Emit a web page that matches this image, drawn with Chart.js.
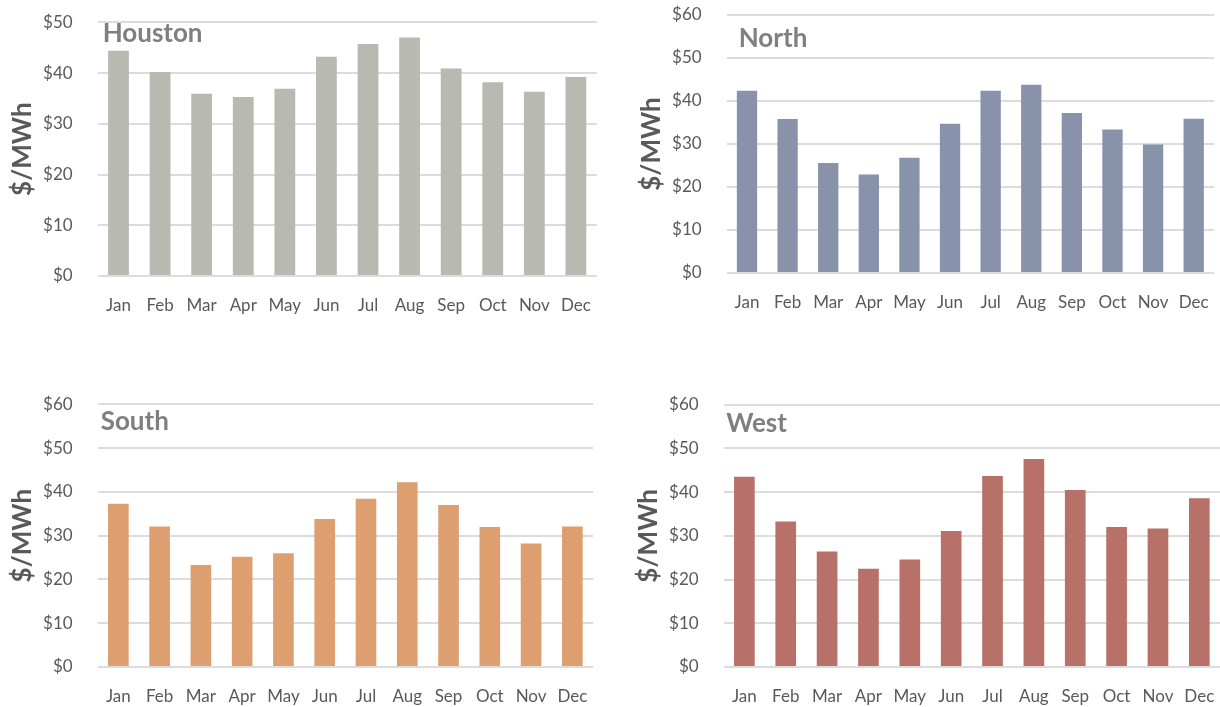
<!DOCTYPE html>
<html>
<head>
<meta charset="utf-8">
<script src="https://cdn.jsdelivr.net/npm/chart.js@4"></script>
<style>
    body { margin: 0; background: #ffffff; }
    #pagina { position: relative; width: 1220px; height: 707px; overflow: hidden; }
    .painel { position: absolute; }
</style>
</head>
<body>
<div id="pagina">
    <div class="painel" style="left:0px; top:0px; width:600px; height:321px;"><canvas id="graficoHouston"></canvas></div>
    <div class="painel" style="left:629px; top:0px; width:588px; height:318px;"><canvas id="graficoNorth"></canvas></div>
    <div class="painel" style="left:0px; top:390px; width:596px; height:322px;"><canvas id="graficoSouth"></canvas></div>
    <div class="painel" style="left:626px; top:390px; width:594px; height:322px;"><canvas id="graficoWest"></canvas></div>
</div>

<script>
const meses = ['Jan', 'Feb', 'Mar', 'Apr', 'May', 'Jun', 'Jul', 'Aug', 'Sep', 'Oct', 'Nov', 'Dec'];

// $/MWh por mes
const houston = [44.4, 40.2, 35.9, 35.3, 36.9, 43.2, 45.7, 47.0, 40.9, 38.2, 36.3, 39.2];
const north = [42.4, 35.8, 25.6, 22.9, 26.8, 34.7, 42.4, 43.8, 37.2, 33.4, 29.9, 35.9];
const south = [37.3, 32.1, 23.3, 25.2, 26.0, 33.8, 38.4, 42.2, 37.0, 32.0, 28.2, 32.1];
const west = [43.5, 33.3, 26.4, 22.5, 24.6, 31.1, 43.7, 47.6, 40.5, 32.0, 31.7, 38.6];

const ticksHouston = [0, 10, 20, 30, 40, 50];
const ticksOutros = [0, 10, 20, 30, 40, 50, 60];

const fonte = 'Lato, "Open Sans", sans-serif';

// escreve o nome da regiao dentro da area do grafico
const pluginTituloRegiao = {
    id: 'tituloRegiao',
    afterDraw(chart, args, opts) {
        const ctx = chart.ctx;
        const area = chart.chartArea;
        ctx.save();
        ctx.font = 'bold 26px ' + fonte;
        ctx.fillStyle = '#7f7f7f';
        ctx.textBaseline = 'alphabetic';
        ctx.textAlign = 'left';
        ctx.fillText(opts.texto, area.left + opts.dx, area.top + opts.dy);
        ctx.restore();
    }
};

function plotarGrafico(idCanvas, regiao, valores, cor, ticks, padTop, padRight, dx, dy) {
    const dados = {
        labels: meses,
        datasets: [{
            label: regiao,
            data: valores,
            backgroundColor: cor,
            borderWidth: 0,
            barPercentage: 0.5,
            categoryPercentage: 1.0
        }]
    };

    const config = {
        type: 'bar',
        data: dados,
        options: {
            responsive: true,
            maintainAspectRatio: false,
            animation: false,
            layout: {
                padding: { top: padTop, right: padRight, left: 0, bottom: 0 }
            },
            plugins: {
                legend: { display: false },
                tooltip: { enabled: false },
                tituloRegiao: { texto: regiao, dx: dx, dy: dy }
            },
            scales: {
                x: {
                    grid: { display: false, drawTicks: false },
                    border: { display: false },
                    ticks: {
                        color: '#595959',
                        font: { family: fonte, size: 17 },
                        padding: 19,
                        maxRotation: 0,
                        autoSkip: false
                    },
                    afterFit(scale) {
                        scale.height = 45;
                        scale.paddingLeft = 0;
                        scale.paddingRight = 0;
                    }
                },
                y: {
                    min: ticks[0],
                    max: ticks[ticks.length - 1],
                    afterBuildTicks(scale) {
                        scale.ticks = ticks.map(v => ({ value: v }));
                    },
                    grid: { color: '#dcdcdc', lineWidth: 2, drawTicks: false },
                    border: { display: false },
                    ticks: {
                        color: '#595959',
                        font: { family: fonte, size: 17 },
                        padding: 25,
                        callback: v => '$' + v
                    },
                    title: {
                        display: true,
                        text: '$/MWh',
                        color: '#595959',
                        font: { family: fonte, size: 26, weight: 'bold' },
                        padding: { top: 7, bottom: 0 }
                    },
                    afterFit(scale) {
                        scale.width = 97.7;
                        // sem folga extra em cima, a area comeca onde o padding manda
                        scale.paddingTop = 0;
                        scale.paddingBottom = 0;
                    }
                }
            }
        },
        plugins: [pluginTituloRegiao]
    };

    new Chart(document.getElementById(idCanvas), config);
}

plotarGrafico('graficoHouston', 'Houston', houston, '#b8b9b0', ticksHouston, 22.3, 3.3, 5, 19.4);
plotarGrafico('graficoNorth', 'North', north, '#8892ab', ticksOutros, 15, 3, 12, 31.7);
plotarGrafico('graficoSouth', 'South', south, '#dd9e70', ticksOutros, 14.3, 3, 3, 25.7);
plotarGrafico('graficoWest', 'West', west, '#b77169', ticksOutros, 14.7, 0, 2.5, 27.6);
</script>
</body>
</html>
